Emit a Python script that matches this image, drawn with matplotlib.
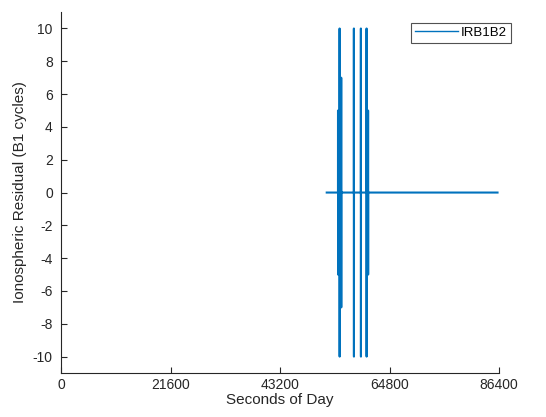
import numpy as np
import matplotlib
matplotlib.use('Agg')
from matplotlib import pyplot as plt

plt.rcParams['font.family'] = ['Liberation Sans', 'DejaVu Sans']

# residual series (seconds of day, B1 cycles)
sod = [52400, 54620, 54630, 54640, 54650, 54930, 54940, 54950, 54960,
       55250, 55260, 55270, 55280, 57750, 57760, 57770, 57780,
       59130, 59140, 59150, 59160, 60250, 60260, 60270, 60280,
       60550, 60560, 60570, 60580, 86100]
resid = [0, 0, 5, -5, 0, 0, 10, -10, 0,
         0, 7, -7, 0, 0, 10, -10, 0,
         0, 10, -10, 0, 0, 10, -10, 0,
         0, 5, -5, 0, 0]
xticks = [0, 21600, 43200, 64800, 86400]
yticks = list(range(-10, 11, 2))
ytick_labels = [str(y) for y in yticks]

axcol = '#262626'
fig = plt.figure(figsize=(5.46, 4.17), dpi=100)
ax = fig.add_axes([0.112, 0.1055, 0.802, 0.8655])
ax.plot(sod, resid, color='#0072BD', lw=1.5, label='IRB1B2')

ax.set_xlim(0, 86400)
ax.set_ylim(-11, 11)
ax.set_xticks(xticks)
ax.set_xticklabels([str(x) for x in xticks])
ax.set_yticks(yticks)
ax.set_yticklabels(ytick_labels)
for s in ['top', 'right']:
    ax.spines[s].set_visible(False)
for s in ['left', 'bottom']:
    ax.spines[s].set_color(axcol)
    ax.spines[s].set_linewidth(0.8)
ax.tick_params(direction='in', length=4, width=0.8, colors=axcol, labelsize=10)
ax.tick_params(axis='y', pad=6)
ax.set_xlabel('Seconds of Day', fontsize=11, color=axcol, labelpad=1)
ax.set_ylabel('Ionospheric Residual (B1 cycles)', fontsize=11, color=axcol, labelpad=4)

leg = ax.legend(loc='upper right', bbox_to_anchor=(1.027, 0.970), fontsize=9.5,
                frameon=True, fancybox=False, handlelength=3.2,
                borderpad=0.3, handletextpad=0.25, borderaxespad=0)
leg.get_frame().set_edgecolor(axcol)
leg.get_frame().set_linewidth(0.8)
for h in leg.get_lines():
    h.set_linewidth(1.0)

fig.savefig('out.png', dpi=100)
